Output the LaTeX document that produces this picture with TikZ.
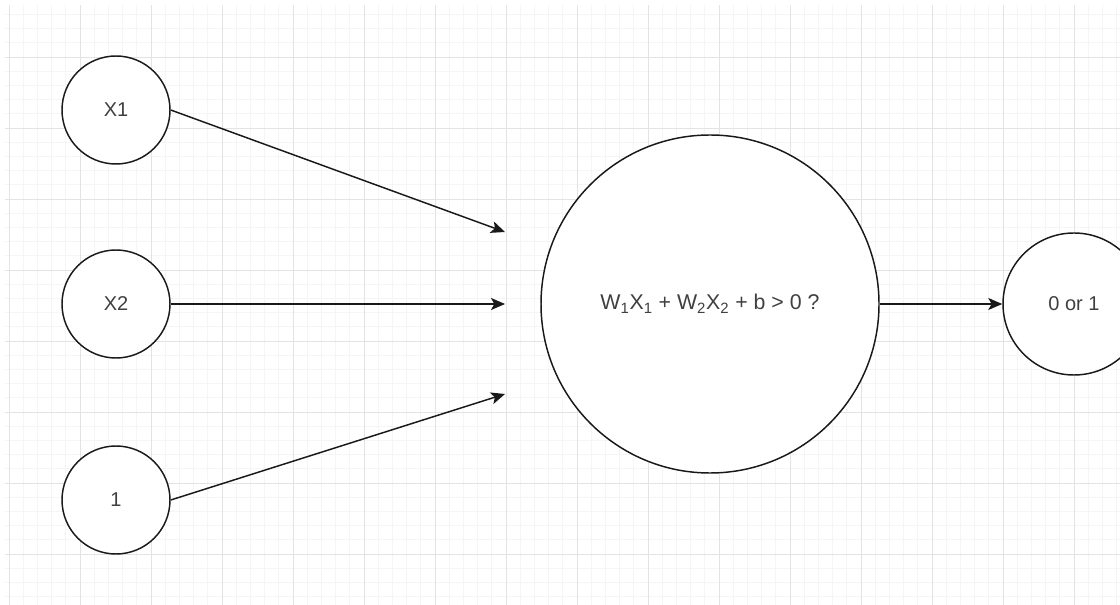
\documentclass[tikz,border=0pt]{standalone}
\usepackage{fontspec}
\setmainfont{Liberation Sans}
\usetikzlibrary{arrows.meta}
\tikzset{>=Stealth}

\begin{document}
\begin{tikzpicture}[x=0.75pt, y=-0.75pt,
  neuron/.style={circle, draw=black!90, fill=white, line width=1.1pt,
    minimum size=81pt, inner sep=0pt, text=black!75,
    font=\fontsize{15}{18}\selectfont},
  sumnode/.style={neuron, minimum size=253.5pt, font=\fontsize{16}{19}\selectfont},
  outnode/.style={neuron, minimum size=106.5pt},
  wire/.style={->, line width=1.1pt, draw=black!90,
    >={Stealth[length=10.5pt, width=9pt, inset=2.5pt]}},
  minorgrid/.style={draw=black!4, line width=0.5pt},
  majorgrid/.style={draw=black!11, line width=0.6pt}
]

\useasboundingbox (0,0) rectangle (1120,605);
\fill[white] (0,0) rectangle (1120,605);

% ---------- Grid ----------
\foreach \m in {-1,...,78}
  \draw[minorgrid] ({9+14.2*\m},5) -- ({9+14.2*\m},605);
\foreach \m in {-3,...,39}
  \draw[minorgrid] (5,{57+14.2*\m}) -- (1120,{57+14.2*\m});
\foreach \k in {0,...,15}
  \draw[majorgrid] ({9+71*\k},5) -- ({9+71*\k},605);
\foreach \k in {0,...,7}
  \draw[majorgrid] (5,{57+71*\k}) -- (1120,{57+71*\k});

% ---------- Inputs ----------
\node[neuron] (x1) at (116,110) {X1};
\node[neuron] (x2) at (116,304) {X2};
\node[neuron] (bias) at (116,500) {1};

% ---------- Summation / threshold ----------
\node[sumnode] (sum) at (710,304) {W\textsubscript{1}X\textsubscript{1} + W\textsubscript{2}X\textsubscript{2} + b > 0 ?};

% ---------- Output ----------
\node[outnode] (out) at (1074,304) {0 or 1};

% ---------- Arrow ends (short of the sum node) ----------
\coordinate (in1) at (505,232);
\coordinate (in2) at (505,304);
\coordinate (in3) at (505,394);

% ---------- Arrows ----------
\draw[wire] (x1.east) -- (in1);
\draw[wire] (x2.east) -- (in2);
\draw[wire] (bias.east) -- (in3);
\draw[wire] (sum.east) -- (out.west);

\end{tikzpicture}
\end{document}
